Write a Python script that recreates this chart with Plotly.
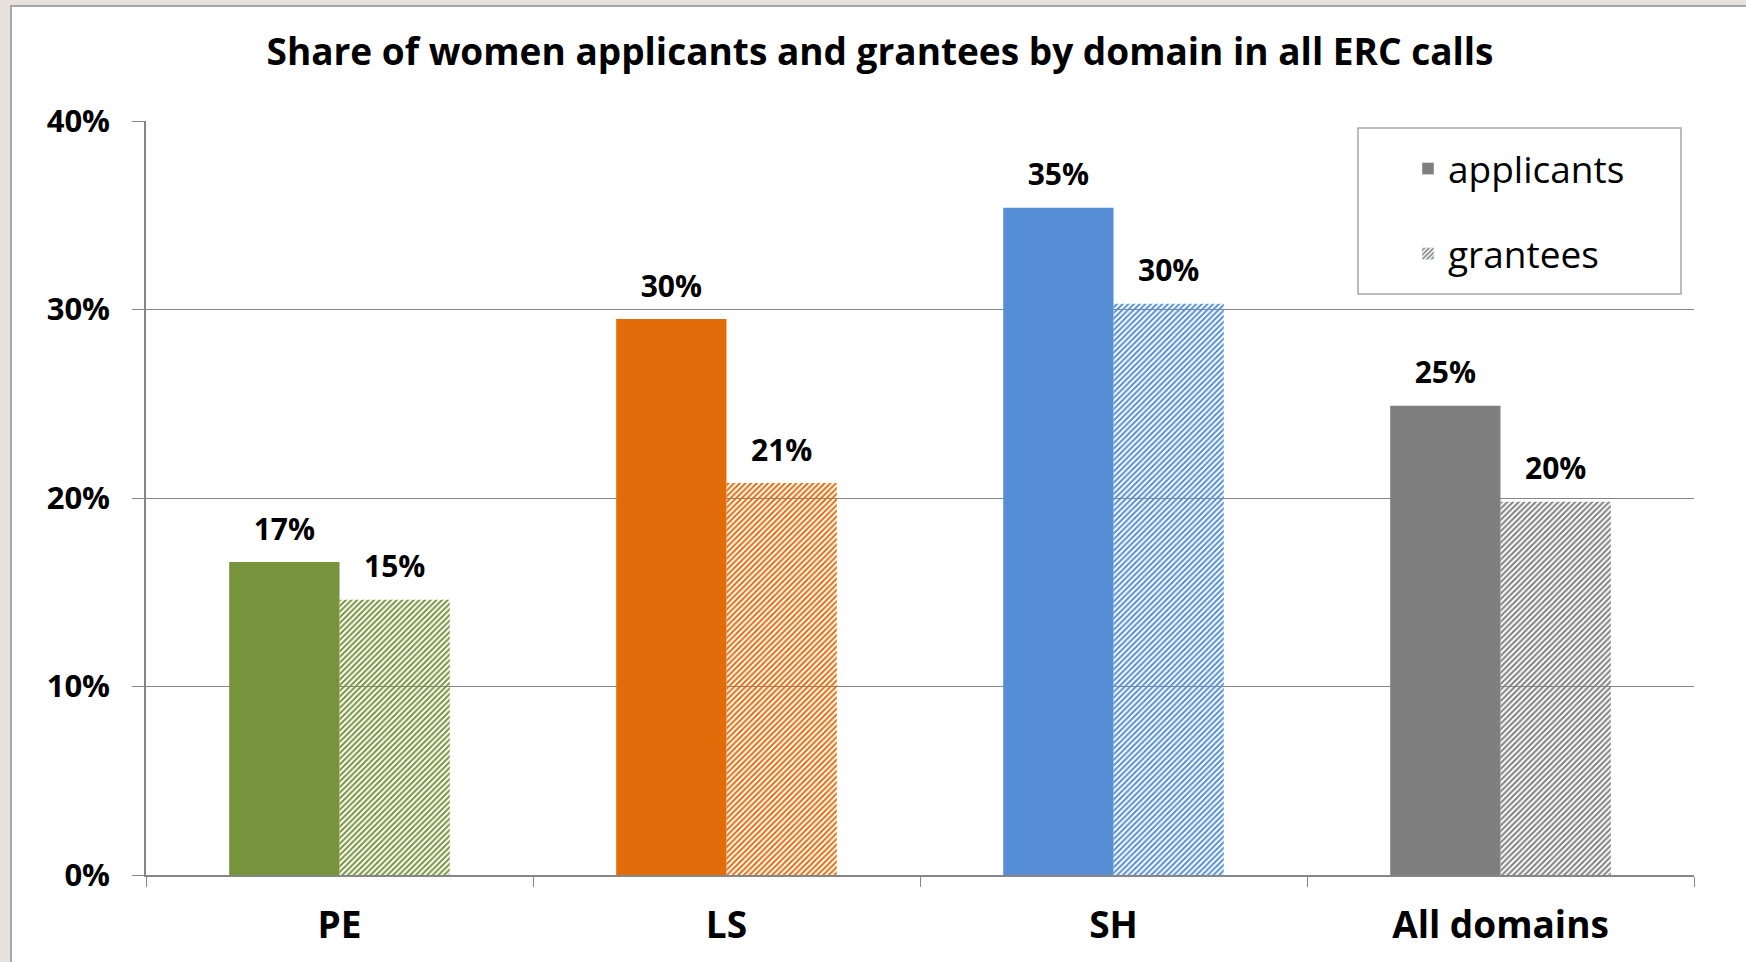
import plotly.graph_objects as go

# data
domains = ["PE", "LS", "SH", "All domains"]
applicants = [16.6, 29.5, 35.4, 24.9]
grantees = [14.6, 20.8, 30.3, 19.8]
applicant_labels = ["17%", "30%", "35%", "25%"]
grantee_labels = ["15%", "21%", "30%", "20%"]
y_ticks = [0, 10, 20, 30, 40]
y_tick_labels = ["0%", "10%", "20%", "30%", "40%"]

DOMAIN_COLOR = ["#77933C", "#E36C0A", "#558ED5", "#7F7F7F"]
LEGEND_GREY = "#7F7F7F"
AXIS_GREY = "#868686"
FONT = "Open Sans"
LABEL_PAD = 0.55  # gap (in % units) between a bar top and its label

W, H = 1746, 962
M_L, M_R, M_T, M_B = 146, 52, 121, 87
PW, PH = W - M_L - M_R, H - M_T - M_B


def px_x(x):
    return (x - M_L) / PW


def px_y(y):
    return (H - M_B - y) / PH


def hatch(color, size=4):
    return dict(shape="/", fgcolor=color, bgcolor="white", size=size,
                solidity=0.5, fillmode="replace")


label_font = dict(family=FONT, size=30, color="black", weight="bold")

fig = go.Figure()

fig.add_trace(go.Bar(
    x=domains, y=applicants,
    marker=dict(color=DOMAIN_COLOR, line_width=0),
    offsetgroup="app", showlegend=False,
))
fig.add_trace(go.Bar(
    x=domains, y=grantees,
    marker=dict(color=DOMAIN_COLOR, line_width=0, pattern=hatch(DOMAIN_COLOR)),
    offsetgroup="gra", showlegend=False,
))

# transparent spacer bars on top of each bar carry the value labels a bit higher
for vals, labels, grp in [(applicants, applicant_labels, "app"),
                          (grantees, grantee_labels, "gra")]:
    fig.add_trace(go.Bar(
        x=domains, y=[LABEL_PAD] * len(vals), base=vals,
        text=labels, textposition="outside", textfont=label_font,
        marker=dict(color="rgba(0,0,0,0)", line_width=0),
        offsetgroup=grp, showlegend=False, cliponaxis=False, hoverinfo="skip",
    ))

# grey legend entries, as in the original
fig.add_trace(go.Bar(
    x=[None], y=[None], name="applicants",
    marker=dict(color=LEGEND_GREY), offsetgroup="app", legendgroup="a",
))
fig.add_trace(go.Bar(
    x=[None], y=[None], name="grantees",
    marker=dict(color=LEGEND_GREY, pattern=hatch(LEGEND_GREY, 4)),
    offsetgroup="gra", legendgroup="g",
))

shapes = [
    # white panel on the beige frame
    dict(
        type="rect", xref="paper", yref="paper", layer="below",
        x0=px_x(11), x1=px_x(W + 5), y0=px_y(H + 5), y1=px_y(6),
        fillcolor="white", line=dict(color="#A6A6A6", width=2),
    ),
    # legend box
    dict(
        type="rect", xref="paper", yref="paper", layer="above",
        x0=px_x(1358), x1=px_x(1681), y0=px_y(294), y1=px_y(128),
        fillcolor="rgba(0,0,0,0)", line=dict(color="#A6A6A6", width=1.5),
    ),
]

fig.update_layout(
    width=W,
    height=H,
    margin=dict(l=M_L, r=M_R, t=M_T, b=M_B, autoexpand=False),
    paper_bgcolor="#E6E1DC",
    plot_bgcolor="rgba(0,0,0,0)",
    barmode="group",
    bargap=0.43,
    bargroupgap=0,
    shapes=shapes,
    title=dict(
        text="Share of women applicants and grantees by domain in all ERC calls",
        font=dict(family=FONT, size=37, color="black", weight="bold"),
        x=px_x(880), xref="paper", xanchor="center",
        y=1 - 52 / H, yref="container", yanchor="middle",
    ),
    font=dict(family=FONT, color="black"),
    legend=dict(
        x=px_x(1408), y=px_y(138), xanchor="left", yanchor="top",
        bgcolor="rgba(0,0,0,0)", borderwidth=0,
        font=dict(family=FONT, size=37, color="black"),
        tracegroupgap=34,
    ),
    xaxis=dict(
        type="category",
        showgrid=False,
        showline=True,
        linecolor=AXIS_GREY,
        linewidth=1.5,
        ticks="outside",
        tickson="boundaries",
        ticklen=10,
        tickcolor=AXIS_GREY,
        tickfont=dict(family=FONT, size=37, color="black", weight="bold"),
        ticklabelstandoff=17,
    ),
    yaxis=dict(
        range=[0, 40],
        tickmode="array",
        tickvals=y_ticks,
        ticktext=y_tick_labels,
        showgrid=True,
        gridcolor=AXIS_GREY,
        gridwidth=1.2,
        showline=True,
        linecolor=AXIS_GREY,
        linewidth=1.5,
        ticks="outside",
        ticklen=12,
        tickcolor=AXIS_GREY,
        tickfont=dict(family=FONT, size=31, color="black", weight="bold"),
        ticklabelstandoff=16,
        zeroline=False,
    ),
)

# the page's default body margin would shift the figure by 8px
fig.write_html(
    "out.html",
    config={"displayModeBar": False},
    post_script="document.body.style.margin = '0';",
)
